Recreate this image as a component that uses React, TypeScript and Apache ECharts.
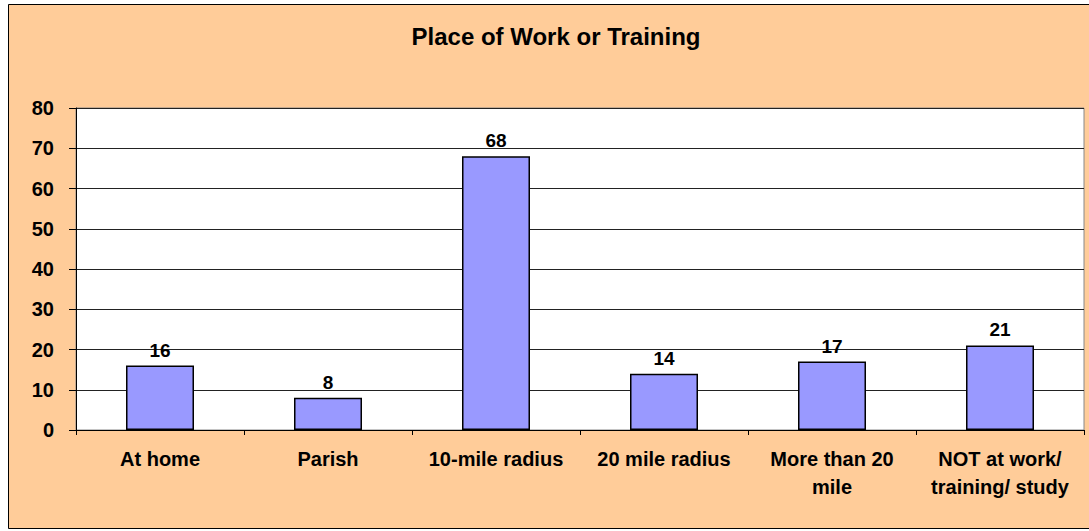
import React, { useEffect, useRef } from "react";
import * as echarts from "echarts";

const titleText = "Place of Work or Training";
const categories = [
  "At home",
  "Parish",
  "10-mile radius",
  "20 mile radius",
  "More than 20\nmile",
  "NOT at work/\ntraining/ study",
];
const values = [16, 8, 68, 14, 17, 21];
const yMin = 0;
const yMax = 80;
const yInterval = 10;

const FONT = "'Liberation Sans', Arial, sans-serif";

export default function App() {
  const ref = useRef<HTMLDivElement>(null);
  useEffect(() => {
    if (!ref.current) return;
    const chart = echarts.init(ref.current, undefined, { renderer: "svg" });
    chart.setOption({
      animation: false,
      backgroundColor: "#ffffff",
      textStyle: { fontFamily: FONT },
      graphic: [
        {
          type: "rect",
          z: -10,
          silent: true,
          shape: { x: 8.5, y: 4.5, width: 1100, height: 524 },
          style: { fill: "#FFCC99", stroke: "#000", lineWidth: 1 },
        },
        {
          type: "text",
          x: 556,
          y: 36,
          style: {
            text: titleText,
            fontFamily: FONT,
            fontWeight: "bold",
            fontSize: 24,
            fill: "#000",
            textAlign: "center",
            textVerticalAlign: "middle",
          },
        },
      ],
      grid: {
        left: 76,
        top: 108,
        right: 5,
        bottom: 101,
        show: true,
        backgroundColor: "#ffffff",
        borderColor: "#888888",
        borderWidth: 1,
      },
      xAxis: {
        type: "category",
        data: categories,
        axisLine: { show: true, lineStyle: { color: "#000", width: 1 } },
        axisTick: { show: true, length: 5, lineStyle: { color: "#000" } },
        axisLabel: {
          interval: 0,
          margin: 15,
          color: "#000",
          fontFamily: FONT,
          fontWeight: "bold",
          fontSize: 20,
          lineHeight: 28,
          verticalAlign: "top",
        },
      },
      yAxis: {
        type: "value",
        min: yMin,
        max: yMax,
        interval: yInterval,
        axisLine: { show: true, lineStyle: { color: "#000", width: 1 } },
        axisTick: { show: true, length: 7, lineStyle: { color: "#000" } },
        splitLine: { show: true, lineStyle: { color: "#222", width: 1 } },
        axisLabel: {
          margin: 22,
          color: "#000",
          fontFamily: FONT,
          fontWeight: "bold",
          fontSize: 20,
        },
      },
      series: [
        {
          type: "bar",
          data: values,
          barWidth: 68,
          itemStyle: { color: "#9999FF", borderColor: "#000", borderWidth: 1.5 },
          label: {
            show: true,
            position: "top",
            distance: 6,
            color: "#000",
            fontFamily: FONT,
            fontWeight: "bold",
            fontSize: 19,
          },
        },
      ],
    });
    return () => chart.dispose();
  }, []);
  return (
    <div
      ref={ref}
      style={{ position: "fixed", left: 0, top: 0, width: 1089, height: 531 }}
    />
  );
}
